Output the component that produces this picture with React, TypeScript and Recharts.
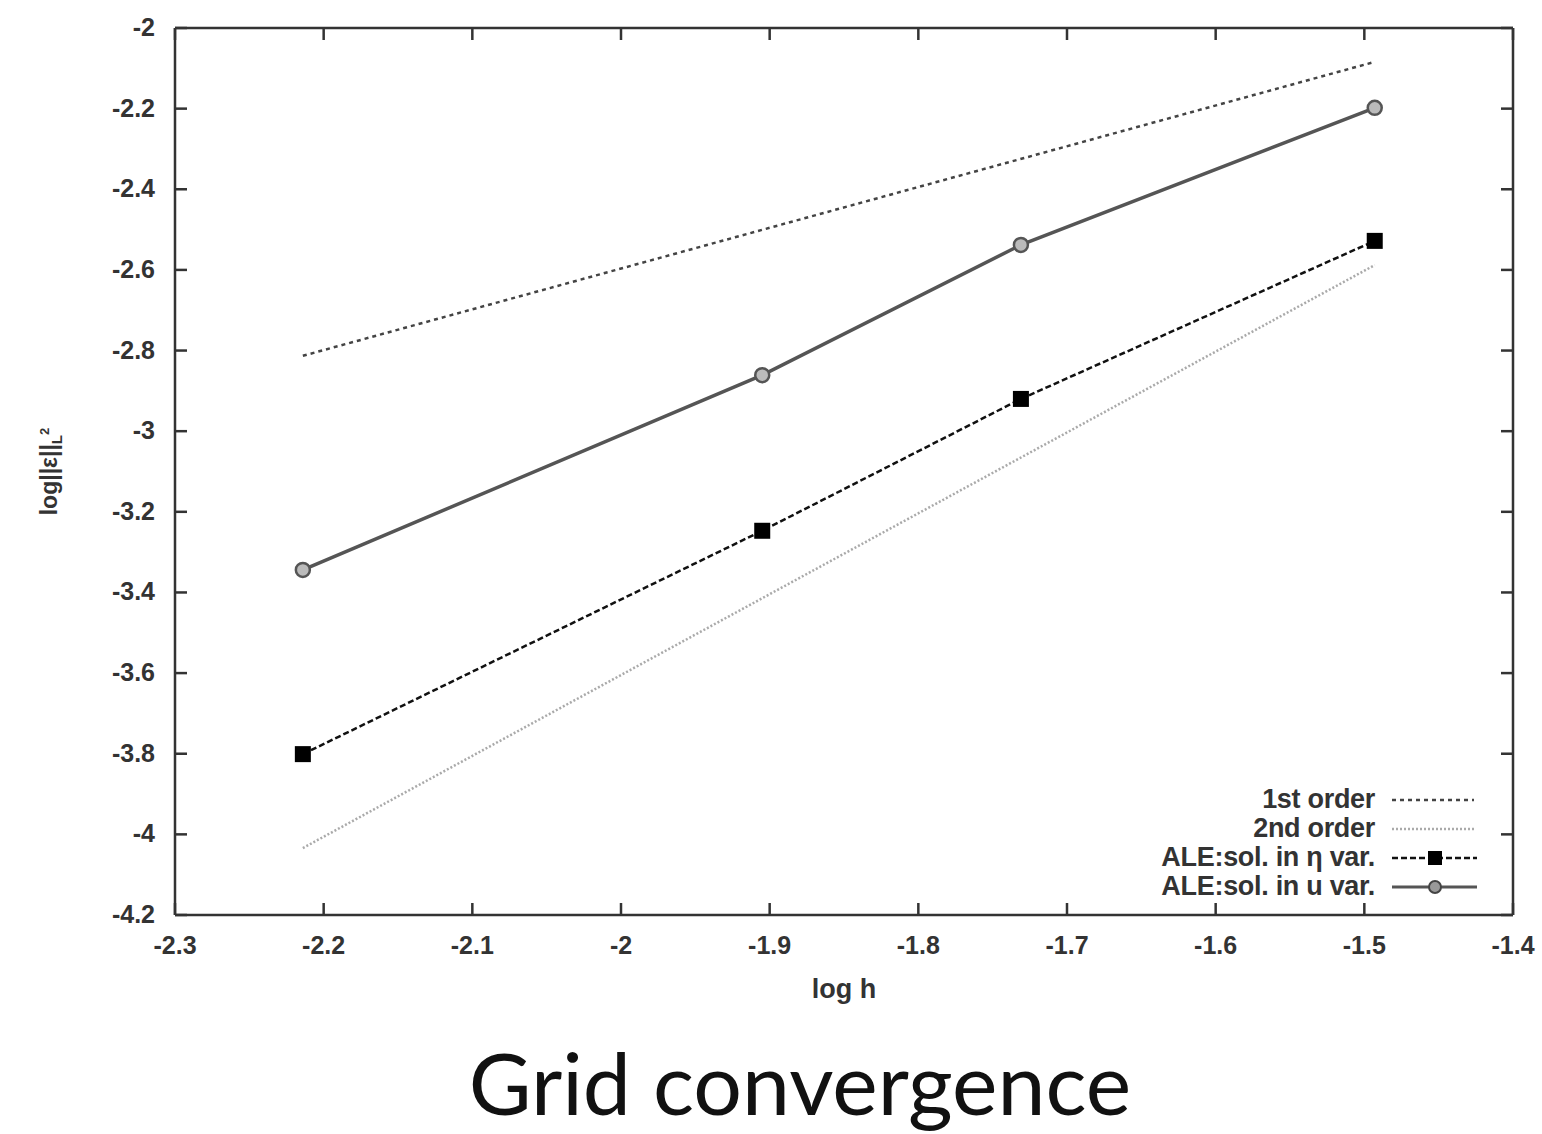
import React from "react";
import {
  LineChart, Line, XAxis, YAxis, Legend, Label,
} from "recharts";

// log h of the four grids
const logH = [-2.214, -1.905, -1.731, -1.493];
// error in L2 norm (log)
const etaErr = [-3.801, -3.247, -2.92, -2.528];
const uErr = [-3.344, -2.861, -2.538, -2.198];
// reference slopes, given only at the two ends
const firstOrder = [-2.813, null, null, -2.084];
const secondOrder = [-4.034, null, null, -2.588];

const xTicks = [-2.3, -2.2, -2.1, -2, -1.9, -1.8, -1.7, -1.6, -1.5, -1.4];
const yTicks = [-4.2, -4, -3.8, -3.6, -3.4, -3.2, -3, -2.8, -2.6, -2.4, -2.2, -2];

const seriesNames = ["1st order", "2nd order", "ALE:sol. in \u03b7 var.", "ALE:sol. in u var."];

const data = logH.map((h, i) => ({
  logH: h,
  first: firstOrder[i],
  second: secondOrder[i],
  eta: etaErr[i],
  u: uErr[i],
}));

const AX = "#333";
const TXT = "#333";
const FONT = "'Liberation Sans', Arial, sans-serif";

const BottomTick = ({ x, y, payload }: any) => (
  <g>
    <line x1={x} y1={y} x2={x} y2={y - 12} stroke={AX} strokeWidth={2.5} />
    <text x={x} y={y + 39} textAnchor="middle" fontSize={25} fontWeight="bold" fill={TXT} fontFamily={FONT}>
      {payload.value}
    </text>
  </g>
);
const TopTick = ({ x, y }: any) => (
  <line x1={x} y1={y} x2={x} y2={y + 12} stroke={AX} strokeWidth={2.5} />
);
const LeftTick = ({ x, y, payload }: any) => (
  <g>
    <line x1={x} y1={y} x2={x + 12} y2={y} stroke={AX} strokeWidth={2.5} />
    <text x={x - 20} y={y + 8} textAnchor="end" fontSize={25} fontWeight="bold" fill={TXT} fontFamily={FONT}>
      {payload.value}
    </text>
  </g>
);
const RightTick = ({ x, y }: any) => (
  <line x1={x} y1={y} x2={x - 12} y2={y} stroke={AX} strokeWidth={2.5} />
);

const SquareDot = ({ cx, cy, index }: any) => (
  <rect key={"sq" + index} x={cx - 8} y={cy - 8} width={16} height={16} fill="#000" />
);
const CircleDot = ({ cx, cy, index }: any) => (
  <circle key={"ci" + index} cx={cx} cy={cy} r={7} fill="#bbb" stroke="#555" strokeWidth={2.5} />
);

const YLabel = ({ viewBox }: any) => {
  const cx = 57;
  const cy = viewBox.y + viewBox.height / 2;
  return (
    <text transform={`translate(${cx},${cy}) rotate(-90)`} textAnchor="middle" fontSize={23}
      fontWeight="bold" fill={TXT} fontFamily={FONT}>
      log||&#949;||
      <tspan fontSize={15} dy={5}>L</tspan>
      <tspan fontSize={13} dy={-13}>2</tspan>
    </text>
  );
};

const sample = (i: number) => {
  if (i === 0) return <line x1={2} y1={12} x2={84} y2={12} stroke="#444" strokeWidth={2.5} strokeDasharray="4 4" />;
  if (i === 1) return <line x1={2} y1={12} x2={84} y2={12} stroke="#aaa" strokeWidth={2.5} strokeDasharray="2 2" />;
  if (i === 2) return (
    <g>
      <line x1={2} y1={12} x2={87} y2={12} stroke="#111" strokeWidth={2.5} strokeDasharray="6 3" />
      <rect x={38} y={5} width={14} height={14} fill="#000" />
    </g>
  );
  return (
    <g>
      <line x1={2} y1={12} x2={87} y2={12} stroke="#555" strokeWidth={3} />
      <circle cx={45} cy={12} r={6} fill="#999" stroke="#444" strokeWidth={2} />
    </g>
  );
};

const LegendBox = () => (
  <div style={{ fontFamily: FONT, fontSize: 27, fontWeight: "bold", color: TXT, letterSpacing: -0.3 }}>
    {seriesNames.map((n, i) => (
      <div key={n} style={{ display: "flex", alignItems: "center", height: 29 }}>
        <div style={{ width: 305, textAlign: "right", lineHeight: "29px", whiteSpace: "nowrap" }}>{n}</div>
        <svg width={90} height={24} style={{ marginLeft: 15 }}>{sample(i)}</svg>
      </div>
    ))}
  </div>
);

export default function App() {
  return (
    <div style={{ position: "absolute", left: 0, top: 0, width: 1542, height: 1134, background: "#fff" }}>
      <LineChart width={1542} height={1030} data={data}
        margin={{ top: 27, right: 28, left: 0, bottom: 25 }}>
        <XAxis dataKey="logH" type="number" domain={[-2.3, -1.4]} ticks={xTicks}
          allowDataOverflow interval={0} height={90} tickSize={0} tickMargin={0}
          axisLine={{ stroke: AX, strokeWidth: 2.5 }} tickLine={false} tick={<BottomTick />}>
          <Label value="log h" position="insideBottom" offset={7} fontSize={27} fontWeight="bold"
            fill={TXT} fontFamily={FONT} />
        </XAxis>
        <XAxis xAxisId="top" orientation="top" dataKey="logH" type="number" domain={[-2.3, -1.4]}
          allowDataOverflow ticks={xTicks} interval={0} height={1} tickSize={0} tickMargin={0}
          axisLine={{ stroke: AX, strokeWidth: 2.5 }} tickLine={false} tick={<TopTick />} />
        <YAxis type="number" domain={[-4.2, -2]} ticks={yTicks} interval={0} width={175}
          allowDataOverflow tickSize={0} tickMargin={0}
          axisLine={{ stroke: AX, strokeWidth: 2.5 }} tickLine={false} tick={<LeftTick />}>
          <Label content={<YLabel />} />
        </YAxis>
        <YAxis yAxisId="right" orientation="right" type="number" domain={[-4.2, -2]} ticks={yTicks}
          allowDataOverflow interval={0} width={1} tickSize={0} tickMargin={0}
          axisLine={{ stroke: AX, strokeWidth: 2.5 }} tickLine={false} tick={<RightTick />} />
        <Legend layout="horizontal" verticalAlign="middle" align="center" content={<LegendBox />}
          wrapperStyle={{ position: "absolute", left: 1070, top: 785, width: 432 }} />
        <Line dataKey="first" name={seriesNames[0]} stroke="#444" strokeWidth={2.5} strokeDasharray="4 4"
          dot={false} connectNulls isAnimationActive={false} />
        <Line dataKey="second" name={seriesNames[1]} stroke="#aaa" strokeWidth={2.5} strokeDasharray="2 2"
          dot={false} connectNulls isAnimationActive={false} />
        <Line dataKey="eta" name={seriesNames[2]} stroke="#111" strokeWidth={2.5} strokeDasharray="6 3"
          dot={<SquareDot />} isAnimationActive={false} />
        <Line dataKey="u" name={seriesNames[3]} stroke="#555" strokeWidth={3.5}
          dot={<CircleDot />} isAnimationActive={false} />
      </LineChart>
      <div style={{ position: "absolute", left: 58, top: 1036, width: 1484, textAlign: "center",
        fontFamily: "Lato, 'Open Sans', sans-serif", fontSize: 86, color: "#111", lineHeight: "92px" }}>
        Grid convergence
      </div>
    </div>
  );
}
